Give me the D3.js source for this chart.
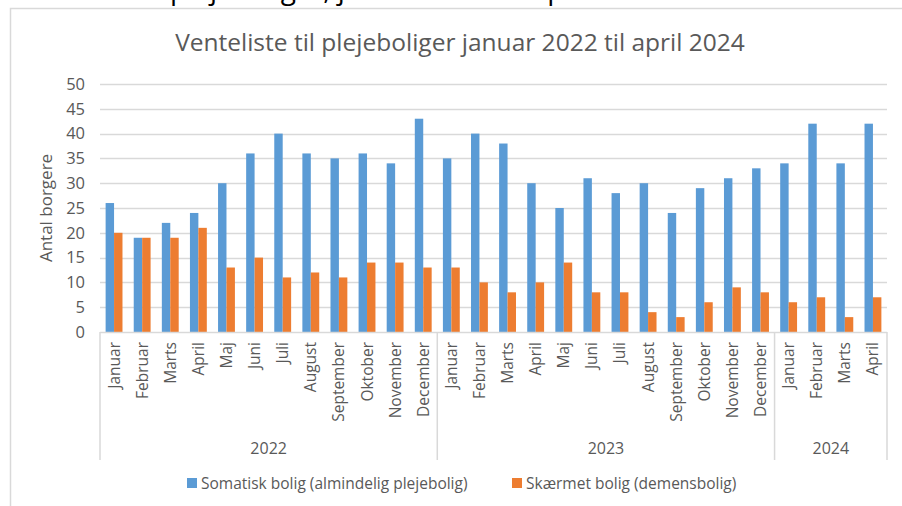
<!DOCTYPE html>
<html>
<head>
<meta charset="utf-8">
<script src="https://d3js.org/d3.v7.min.js"></script>
<style>
  body { margin: 0; background: #fff; }
  text { font-family: "Open Sans", "Noto Sans", sans-serif; fill: #595959; }
</style>
</head>
<body>
<div id="chart"></div>
<script>
    // data
    var months = ["Januar", "Februar", "Marts", "April", "Maj", "Juni", "Juli", "August",
        "September", "Oktober", "November", "December",
        "Januar", "Februar", "Marts", "April", "Maj", "Juni", "Juli", "August",
        "September", "Oktober", "November", "December",
        "Januar", "Februar", "Marts", "April"];
    var somatisk = [26, 19, 22, 24, 30, 36, 40, 36, 35, 36, 34, 43,
        35, 40, 38, 30, 25, 31, 28, 30, 24, 29, 31, 33,
        34, 42, 34, 42];
    var skaermet = [20, 19, 19, 21, 13, 15, 11, 12, 11, 14, 14, 13,
        13, 10, 8, 10, 14, 8, 8, 4, 3, 6, 9, 8,
        6, 7, 3, 7];
    var years = ["2022", "2023", "2024"];
    var yearCounts = [12, 12, 4];
    var yTicks = [0, 5, 10, 15, 20, 25, 30, 35, 40, 45, 50];
    var seriesNames = ["Somatisk bolig (almindelig plejebolig)", "Skærmet bolig (demensbolig)"];
    var colors = ["#5B9BD5", "#ED7D31"];

    var width = 902, height = 506;
    var plotL = 100, plotR = 887, plotT = 84, plotB = 332;

    var svg = d3.select("#chart").append("svg")
        .attr("width", width)
        .attr("height", height);

    // cut off heading from the page above the chart
    svg.append("text")
        .attr("x", 170)
        .attr("y", -1.5)
        .style("fill", "#000")
        .style("font-size", "28px")
        .text("plejeboliger, januar 2022 til april 2024");

    // chart frame
    svg.append("path")
        .attr("d", "M10.5,506 L10.5,8.5 L902,8.5")
        .attr("fill", "none")
        .attr("stroke", "#d9d9d9")
        .attr("stroke-width", 1.5);

    svg.append("text")
        .attr("x", 460)
        .attr("y", 51)
        .attr("text-anchor", "middle")
        .style("font-size", "24.5px")
        .text("Venteliste til plejeboliger januar 2022 til april 2024");

    var x = d3.scaleBand()
        .domain(d3.range(months.length))
        .range([plotL, plotR])
        .paddingInner(0.4)
        .paddingOuter(0.2);

    var xs = d3.scaleBand()
        .domain([0, 1])
        .range([0, x.bandwidth()]);

    var y = d3.scaleLinear()
        .domain([0, 50])
        .range([plotB, plotT]);

    // grid
    svg.append("g")
        .selectAll("line")
        .data(yTicks.slice(1))
        .enter().append("line")
        .attr("x1", plotL)
        .attr("x2", plotR)
        .attr("y1", function (d) { return Math.round(y(d)) + 0.5; })
        .attr("y2", function (d) { return Math.round(y(d)) + 0.5; })
        .attr("stroke", "#d9d9d9")
        .attr("stroke-width", 1.5);

    var yAxis = svg.append("g")
        .attr("transform", "translate(" + (plotL - 15) + ",0)")
        .call(d3.axisLeft(y).tickValues(yTicks).tickSize(0).tickPadding(0));
    yAxis.select(".domain").remove();
    yAxis.selectAll("text")
        .style("font-size", "16.5px")
        .style("fill", "#595959")
        .style("font-family", "'Open Sans', sans-serif");

    svg.append("text")
        .attr("transform", "translate(52,208) rotate(-90)")
        .attr("text-anchor", "middle")
        .style("font-size", "17px")
        .text("Antal borgere");

    // bars
    var series = [somatisk, skaermet];
    series.forEach(function (vals, s) {
        svg.append("g")
            .selectAll("rect")
            .data(vals)
            .enter().append("rect")
            .attr("x", function (d, i) { return x(i) + xs(s); })
            .attr("width", xs.bandwidth())
            .attr("y", function (d) { return y(d); })
            .attr("height", function (d) { return y(0) - y(d); })
            .attr("fill", colors[s]);
    });

    // category axis
    var step = x.step();
    svg.append("line")
        .attr("x1", plotL).attr("x2", plotR)
        .attr("y1", plotB + 0.5).attr("y2", plotB + 0.5)
        .attr("stroke", "#d9d9d9").attr("stroke-width", 1.5);

    var bounds = [0];
    yearCounts.forEach(function (c, i) { bounds.push(bounds[i] + c); });
    svg.append("g")
        .selectAll("line")
        .data(bounds)
        .enter().append("line")
        .attr("x1", function (d) { return plotL + d * step; })
        .attr("x2", function (d) { return plotL + d * step; })
        .attr("y1", plotB)
        .attr("y2", 460)
        .attr("stroke", "#d9d9d9")
        .attr("stroke-width", 1.5);

    svg.append("g")
        .selectAll("text")
        .data(months)
        .enter().append("text")
        .attr("transform", function (d, i) {
            return "translate(" + (x(i) + x.bandwidth() / 2 + 5.5) + "," + (plotB + 10) + ") rotate(-90)";
        })
        .attr("text-anchor", "end")
        .style("font-size", "15.5px")
        .text(function (d) { return d; });

    svg.append("g")
        .selectAll("text")
        .data(years)
        .enter().append("text")
        .attr("x", function (d, i) { return plotL + (bounds[i] + yearCounts[i] / 2) * step; })
        .attr("y", 454)
        .attr("text-anchor", "middle")
        .style("font-size", "16px")
        .text(function (d) { return d; });

    // legend
    var legendX = [187, 512];
    seriesNames.forEach(function (name, s) {
        svg.append("rect")
            .attr("x", legendX[s])
            .attr("y", 478)
            .attr("width", 10)
            .attr("height", 10)
            .attr("fill", colors[s]);
        svg.append("text")
            .attr("x", legendX[s] + 14)
            .attr("y", 489)
            .style("font-size", "15.5px")
            .text(name);
    });
</script>
</body>
</html>
